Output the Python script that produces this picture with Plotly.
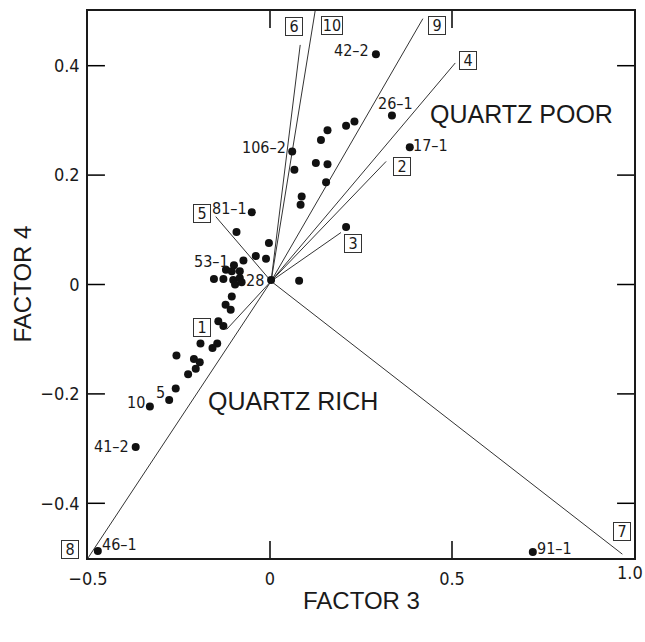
import plotly.graph_objects as go

# Sample scores on factor 3 (x) and factor 4 (y)
sample_x = [-0.050, -0.092, -0.003, -0.039, -0.011, -0.073, -0.099, -0.121, -0.105, -0.083,
            -0.128, -0.154, -0.101, -0.083, -0.096, -0.078, 0.003, -0.105, 0.080, -0.122,
            -0.108, -0.142, -0.128, -0.191, -0.145, -0.158, -0.209, -0.193, -0.204, -0.225,
            -0.257, -0.259, -0.277, -0.330, -0.369, -0.473, 0.722, 0.061, 0.067, 0.158,
            0.140, 0.209, 0.232, 0.126, 0.158, 0.154, 0.087, 0.084, 0.335, 0.384,
            0.209, 0.291]
sample_y = [0.132, 0.096, 0.076, 0.052, 0.047, 0.044, 0.035, 0.027, 0.024, 0.024,
            0.010, 0.010, 0.008, 0.012, 0.000, 0.004, 0.008, -0.022, 0.007, -0.037,
            -0.046, -0.067, -0.076, -0.108, -0.108, -0.116, -0.136, -0.142, -0.154, -0.164,
            -0.130, -0.190, -0.211, -0.223, -0.297, -0.487, -0.489, 0.243, 0.210, 0.282,
            0.264, 0.290, 0.298, 0.222, 0.220, 0.187, 0.161, 0.146, 0.309, 0.251,
            0.105, 0.421]

# Named samples: label -> index into the score arrays
sample_names = ["81–1", "53–1", "28", "106–2", "42–2", "26–1", "17–1",
                "5", "10", "41–2", "46–1", "91–1"]
sample_index = [0, 6, 16, 37, 51, 48, 49, 32, 33, 34, 35, 36]
# pixel offsets of each name from its point
name_shift = [(-22, 4), (-22, 4), (-16, 0), (-28, 4), (-24, 4), (4, 12), (21, 2),
              (-9, 7), (-14, 4), (-24, 0), (22, 6), (22, 3)]

# End-member vectors drawn from the common origin
vector_ids = ["1", "2", "3", "4", "5", "6", "7", "8", "9", "10"]
vector_x = [-0.119, 0.319, 0.195, 0.509, -0.149, 0.083, 0.968, -0.500, 0.420, 0.124]
vector_y = [-0.082, 0.225, 0.095, 0.405, 0.124, 0.438, -0.493, -0.500, 0.486, 0.500]
origin = (0.003, 0.006)
# pixel offsets of each boxed number from the end of its vector
vector_shift = [(-25, 2), (16, -5), (12, -11), (13, 2), (-14, 3), (-6, 18),
                (0, 23), (-18, 9), (14, -7), (17, -14)]

x_ticks = [-0.5, 0, 0.5, 1.0]
x_ticktext = ["−0.5", "0", "0.5", "1.0"]
y_ticks = [-0.4, -0.2, 0, 0.2, 0.4]
y_ticktext = ["−0.4", "−0.2", "0", "0.2", "0.4"]

INK = "#1a1a1a"
NARROW = "DejaVu Sans Condensed, Liberation Sans, sans-serif"
SANS = "Liberation Sans, Arial, Helvetica, sans-serif"
TICK_FRAC = 0.031  # inward tick length as a fraction of the plot side

fig = go.Figure()

# vectors
lx, ly = [], []
for vx, vy in zip(vector_x, vector_y):
    lx += [origin[0], vx, None]
    ly += [origin[1], vy, None]
fig.add_trace(go.Scatter(x=lx, y=ly, mode="lines",
                         line=dict(color="#333333", width=1), hoverinfo="skip"))

# samples
fig.add_trace(go.Scatter(x=sample_x, y=sample_y, mode="markers",
                         marker=dict(color="#111111", size=8, line=dict(width=0))))

annotations = []
for name, idx, (dx, dy) in zip(sample_names, sample_index, name_shift):
    annotations.append(dict(x=sample_x[idx], y=sample_y[idx], xref="x", yref="y",
                            text=name, showarrow=False, xshift=dx, yshift=dy,
                            font=dict(family=NARROW, size=16, color=INK)))

for vid, vx, vy, (dx, dy) in zip(vector_ids, vector_x, vector_y, vector_shift):
    annotations.append(dict(x=vx, y=vy, xref="x", yref="y", text=vid,
                            showarrow=False, xshift=dx, yshift=dy,
                            width=14 if len(vid) == 1 else 18, height=15,
                            bordercolor="#333333", borderwidth=1, borderpad=1,
                            font=dict(family=NARROW, size=16, color=INK)))

annotations += [
    dict(x=0.692, y=0.311, xref="x", yref="y", text="QUARTZ POOR", showarrow=False,
         font=dict(family=SANS, size=25, color=INK)),
    dict(x=0.064, y=-0.213, xref="x", yref="y", text="QUARTZ RICH", showarrow=False,
         font=dict(family=SANS, size=25, color=INK)),
    dict(x=0.5, y=0, xref="paper", yref="paper", text="FACTOR 3", showarrow=False,
         yanchor="middle", yshift=-42,
         font=dict(family=SANS, size=24, color=INK)),
    dict(x=0, y=0.5, xref="paper", yref="paper", text="FACTOR 4", showarrow=False,
         xanchor="center", xshift=-66, textangle=-90,
         font=dict(family=SANS, size=24, color=INK)),
    # last x tick label sits on the right edge of the page
    dict(x=x_ticks[-1], y=0, xref="x", yref="paper", text=x_ticktext[-1],
         showarrow=False, yanchor="top", yshift=-2, xshift=-4,
         font=dict(family=NARROW, size=18, color=INK)),
]

# inward tick marks on all four sides at the tick values
shapes = []
tick_line = dict(color="#000000", width=1.5)
for tv in x_ticks[1:-1]:
    shapes.append(dict(type="line", xref="x", yref="paper", x0=tv, x1=tv,
                       y0=0, y1=TICK_FRAC, line=tick_line, layer="above"))
    shapes.append(dict(type="line", xref="x", yref="paper", x0=tv, x1=tv,
                       y0=1, y1=1 - TICK_FRAC, line=tick_line, layer="above"))
for tv in y_ticks:
    shapes.append(dict(type="line", xref="paper", yref="y", y0=tv, y1=tv,
                       x0=0, x1=TICK_FRAC, line=tick_line, layer="above"))
    shapes.append(dict(type="line", xref="paper", yref="y", y0=tv, y1=tv,
                       x0=1, x1=1 - TICK_FRAC, line=tick_line, layer="above"))

axis_common = dict(showgrid=False, zeroline=False, showline=True, linecolor=INK,
                   linewidth=1.5, mirror=True, ticks="", automargin=False,
                   tickfont=dict(family=NARROW, size=18, color=INK))

fig.update_layout(
    width=645, height=642,
    margin=dict(l=88, r=11, t=11, b=84),
    plot_bgcolor="white", paper_bgcolor="white",
    showlegend=False,
    xaxis=dict(range=[-0.5, 1.0], tickvals=x_ticks, ticktext=x_ticktext,
               ticklabelstandoff=4, **axis_common),
    yaxis=dict(range=[-0.5, 0.5], tickvals=y_ticks, ticktext=y_ticktext,
               ticklabelstandoff=3, **axis_common),
    annotations=annotations,
    shapes=shapes,
)

fig.write_html("out.html")
